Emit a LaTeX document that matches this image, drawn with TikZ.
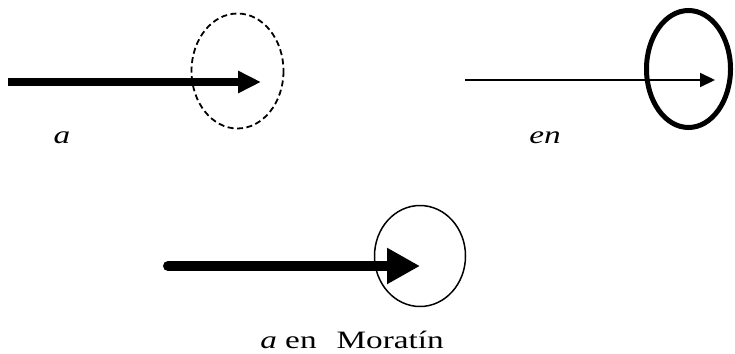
\documentclass[tikz,border=0pt]{standalone}
\usepackage{fontspec}
\setmainfont{Liberation Serif}
\usetikzlibrary{arrows.meta}

\begin{document}
\begin{tikzpicture}[x=1pt,y=-1pt,
  lbl/.style={font=\fontsize{25}{29}\selectfont,anchor=base,xscale=1.33,transform shape,inner sep=0pt},
  ring/.style={line width=#1}]
\useasboundingbox (0,0) rectangle (735,353);
% a
\begin{scope}
\coordinate (aL) at (8,82);\coordinate (aR) at (261,82);\coordinate (aC) at (237.5,71);
\draw[ring=1.8,dash pattern=on 6pt off 3.5pt] (aC) ellipse [x radius=46,y radius=57.5];
\draw[line width=7.5,-{Triangle[length=23pt,width=21pt]}] (aL)--(aR);
\node[lbl] (la) at (62,143) {\textit{a}};
\end{scope}
% en
\begin{scope}
\coordinate (eL) at (465,80);\coordinate (eR) at (715,80);\coordinate (eC) at (688.5,69);
\draw[ring=5] (eC) ellipse [x radius=42,y radius=58.5];
\draw[line width=2,-{Triangle[length=15pt,width=14pt]}] (eL)--(eR);
\node[lbl] (le) at (545,143) {\textit{en}};
\end{scope}
% a en Morat\'in
\begin{scope}
\coordinate (mL) at (168,266);\coordinate (mR) at (420,266);\coordinate (mC) at (420,256);
\draw[ring=1.5] (mC) ellipse [x radius=45.5,y radius=50.5];
\draw[line width=10,line cap=round,-{Triangle[length=33pt,width=34pt]}] (mL)--(mR);
\node[lbl] (lm) at (352,348) {\textit{a} en\hspace{0.6em}Moratín};
\end{scope}
\end{tikzpicture}
\end{document}
